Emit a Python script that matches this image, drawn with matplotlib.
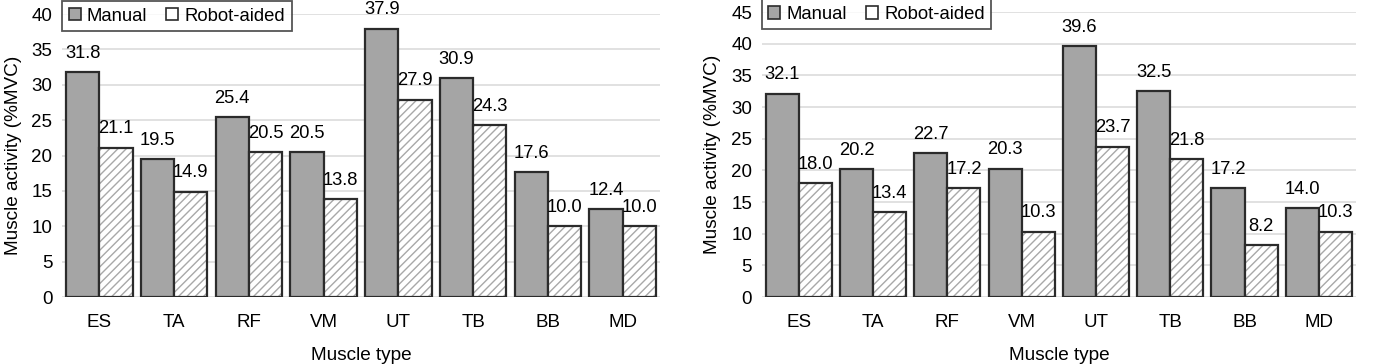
import matplotlib
matplotlib.use("Agg")
import matplotlib.pyplot as plt
import numpy as np
from matplotlib.patches import Patch

plt.rcParams["font.family"] = ["Liberation Sans", "DejaVu Sans"]
plt.rcParams["hatch.linewidth"] = 1.0

muscles = ["ES", "TA", "RF", "VM", "UT", "TB", "BB", "MD"]
manual_a = [31.8, 19.5, 25.4, 20.5, 37.9, 30.9, 17.6, 12.4]
robot_a = [21.1, 14.9, 20.5, 13.8, 27.9, 24.3, 10.0, 10.0]
manual_b = [32.1, 20.2, 22.7, 20.3, 39.6, 32.5, 17.2, 14.0]
robot_b = [18.0, 13.4, 17.2, 10.3, 23.7, 21.8, 8.2, 10.3]

fig = plt.figure(figsize=(13.85, 3.64), dpi=100)
ax1 = fig.add_axes([0.0448, 0.184, 0.4317, 0.7775])
ax2 = fig.add_axes([0.550, 0.184, 0.429, 0.7825])


def tegele(ax, manual, robot, ymax):
    x = np.arange(len(muscles))
    w = 0.445
    ax.bar(x - w / 2, manual, w, color="#a5a5a5", edgecolor="#2b2b2b", linewidth=1.6, zorder=3)
    ax.bar(x + w / 2, robot, w, color="white", edgecolor="#a8a8a8", hatch="////", linewidth=0, zorder=3)
    ax.bar(x + w / 2, robot, w, fill=False, edgecolor="#2b2b2b", linewidth=1.6, zorder=4)
    for i in range(len(muscles)):
        ax.text(x[i] - w / 2, manual[i] + ymax * 0.037, f"{manual[i]:.1f}", ha="center", va="bottom", fontsize=13.2)
        ax.text(x[i] + w / 2, robot[i] + ymax * 0.037, f"{robot[i]:.1f}", ha="center", va="bottom", fontsize=13.2)
    ax.set_xlim(-0.5, len(muscles) - 0.5)
    ax.set_ylim(0, ymax)
    ax.set_yticks(range(0, ymax + 1, 5))
    ax.set_xticks(x)
    ax.set_xticklabels(muscles)
    ax.tick_params(length=0, labelsize=13.5, pad=7)
    ax.tick_params(axis="x", pad=12)
    ax.grid(axis="y", color="#dcdcdc", linewidth=1.2, zorder=0)
    for s in ax.spines.values():
        s.set_visible(False)
    ax.set_xlabel("Muscle type", fontsize=13.7, labelpad=12)
    ax.set_ylabel("Muscle activity (%MVC)", fontsize=13.7, labelpad=7)
    handles = [Patch(facecolor="#a5a5a5", edgecolor="#2b2b2b", linewidth=1.2),
               Patch(facecolor="white", edgecolor="#2b2b2b", linewidth=1.2)]
    leg = ax.legend(handles, ["Manual", "Robot-aided"], loc="upper left", ncol=2, fontsize=13.3,
                    frameon=True, fancybox=False, edgecolor="#2b2b2b", borderaxespad=0.0,
                    handlelength=0.65, handleheight=0.65, handletextpad=0.35, columnspacing=1.0,
                    borderpad=0.35, bbox_to_anchor=(0.0, 1.045))
    leg.get_frame().set_linewidth(1.3)
    leg.set_zorder(5)


tegele(ax1, manual_a, robot_a, 40)
tegele(ax2, manual_b, robot_b, 45)

fig.savefig("out.png", dpi=100)
